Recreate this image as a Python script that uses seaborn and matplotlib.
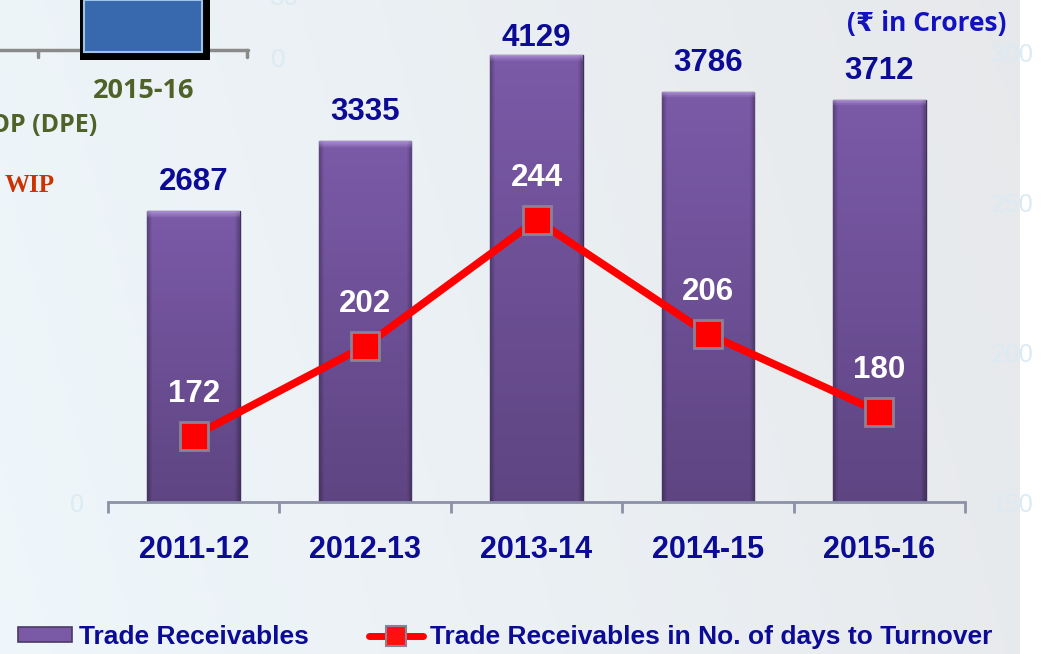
import numpy as np
import pandas as pd
import seaborn as sns
import matplotlib
matplotlib.use("Agg")
import matplotlib.pyplot as plt
from matplotlib.patches import Patch, Rectangle
from matplotlib.lines import Line2D
from matplotlib.ticker import FixedLocator

# ---- data ----
years = ["2011-12", "2012-13", "2013-14", "2014-15", "2015-16"]
receivables = [2687, 3335, 4129, 3786, 3712]
days_turnover = [172, 202, 244, 206, 180]
right_ticks = [150, 200, 250, 300]

sns.set_theme(style="white")
plt.rcParams["font.family"] = ["Liberation Sans", "DejaVu Sans"]

W, H = 1050, 654
fig = plt.figure(figsize=(W / 100, H / 100), dpi=100, facecolor="white")

# background gradient panel (slide background)
bg = fig.add_axes([0, 0, 1020 / W, 1])
bg.set_axis_off()
gx = np.linspace(0, 1, 256)[None, :]
gy = np.linspace(0, 1, 64)[:, None]
c_left = np.array([0.935, 0.967, 0.985])
c_right = np.array([0.905, 0.912, 0.922])
t = np.clip(gx * 0.85 + gy * 0.15, 0, 1)[..., None]
img = c_left * (1 - t) + c_right * t
bg.imshow(img, aspect="auto", extent=[0, 1, 0, 1], origin="lower")
bg.set_xlim(0, 1)
bg.set_ylim(0, 1)

# ---- overlapping slide fragments (top-left) ----
fig.patches.append(Rectangle((80 / W, 1 - 60 / H), 130 / W, 60 / H, transform=fig.transFigure,
                             facecolor="black", edgecolor="none", zorder=1))
fig.patches.append(Rectangle((84 / W, 1 - 52 / H), 118 / W, 52 / H, transform=fig.transFigure,
                             facecolor="#3868AE", edgecolor="#9DC3E6", lw=1.5, zorder=1))
fig.lines.append(Line2D([0, 248 / W], [1 - 50 / H, 1 - 50 / H], transform=fig.transFigure,
                        color="#8A8A8A", lw=2.5, zorder=1))
for xx in [38, 247]:
    fig.lines.append(Line2D([xx / W, xx / W], [1 - 50 / H, 1 - 57 / H], transform=fig.transFigure,
                            color="#8A8A8A", lw=2.5, zorder=1))
fig.text(144 / W, 1 - 91 / H, "2015-16", color="#4F6228", fontsize=19.5, fontweight="bold",
         family=["Open Sans", "DejaVu Sans"], ha="center", va="center")
fig.text(-10 / W, 1 - 126 / H, "OP (DPE)", color="#4F6228", fontsize=18, fontweight="bold",
         family=["Open Sans", "DejaVu Sans"], ha="left", va="center")
fig.text(5 / W, 1 - 185 / H, "WIP", color="#CC3300", fontsize=18, fontweight="bold",
         family=["Liberation Serif", "DejaVu Serif"], ha="left", va="center")
fig.text(278 / W, 1 - 60 / H, "0", color="#DCEAF2", fontsize=19,
         ha="center", va="center")
fig.text(285 / W, 1 + 2 / H, "50", color="#DCEAF2", fontsize=19,
         ha="center", va="center")

# ---- main chart ----
left, right, bottom, top = 108, 965, 502, 52
ax = fig.add_axes([left / W, 1 - bottom / H, (right - left) / W, (bottom - top) / H])
ax.set_facecolor("none")

df = pd.DataFrame({"year": years, "recv": receivables, "days": days_turnover})
sns.barplot(data=df, x="year", y="recv", ax=ax, color="#6E4F9C", width=0.54,
            edgecolor="#3E3058", linewidth=1.0, saturation=1)

ylim_left = (0, 4155)
ax.set_xlim(-0.5, 4.5)
ax.set_ylim(*ylim_left)

# gradient fill for bars
rows, cols = 200, 60
vy = np.linspace(0, 1, rows)[:, None]  # 0 bottom -> 1 top
vx = np.linspace(0, 1, cols)[None, :]
top_c = np.array([0.482, 0.353, 0.66])
bot_c = np.array([0.37, 0.27, 0.51])
base = bot_c * (1 - vy[..., None]) + top_c * vy[..., None]
base = np.broadcast_to(base, (rows, cols, 3)).copy()
edge = np.clip(1 - np.minimum(vx, 1 - vx) / 0.05, 0, 1)[..., None]
base = base * (1 - 0.25 * edge)
for b in ax.patches:
    x0, y0 = b.get_x(), b.get_y()
    w, h = b.get_width(), b.get_height()
    px_h = h / (ylim_left[1] - ylim_left[0]) * (bottom - top)
    img_b = base.copy()
    bevel = max(1, int(rows * 8 / max(px_h, 8)))
    ramp = np.linspace(0.15, 0.6, bevel)[:, None, None]
    img_b[-bevel:, :, :] = img_b[-bevel:, :, :] * (1 - ramp) + np.array([0.80, 0.70, 0.94]) * ramp
    im = ax.imshow(img_b, extent=[x0, x0 + w, y0, y0 + h], aspect="auto", origin="lower",
                   zorder=b.get_zorder() + 0.1)
    im.set_clip_path(b)
ax.set_xlim(-0.5, 4.5)
ax.set_ylim(*ylim_left)

lab_col = "#0B0B96"
plot_h = bottom - top
for b, v in zip(ax.patches, receivables):
    frac = b.get_height() / (ylim_left[1] - ylim_left[0])
    yfrac = min(frac + 29 / plot_h, 1 + 14 / plot_h)
    ax.text(b.get_x() + b.get_width() / 2, yfrac, f"{v}",
            transform=ax.get_xaxis_transform(), ha="center", va="center",
            fontsize=22.5, fontweight="bold", color=lab_col, clip_on=False)

for s in ["left", "right", "top"]:
    ax.spines[s].set_visible(False)
ax.spines["bottom"].set_color("#8D91A8")
ax.spines["bottom"].set_linewidth(2)
ax.set_xlabel("")
ax.set_ylabel("")
ax.set_yticks([0])
ax.tick_params(axis="y", length=0, pad=17, labelsize=18, labelcolor="#DCEBF3")
ax.tick_params(axis="x", which="major", length=0, pad=24, labelsize=22, labelcolor=lab_col)
for tl in ax.get_xticklabels():
    tl.set_fontweight("bold")
ax.xaxis.set_minor_locator(FixedLocator(np.arange(-0.5, 5, 1.0)))
ax.tick_params(axis="x", which="minor", length=8, width=2, color="#8D91A8", direction="out",
               bottom=True)

# ---- line on secondary axis ----
ax2 = ax.twinx()
sns.pointplot(data=df, x="year", y="days", ax=ax2, color="#FF0000", markers="s",
              linestyles="-", linewidth=5.5, markersize=20, markeredgecolor="#8C8296",
              markeredgewidth=2.0)
ax2.set_xlim(-0.5, 4.5)
ax2.set_ylim(150, 300)
ax2.set_yticks(right_ticks)
for s in ["left", "right", "top", "bottom"]:
    ax2.spines[s].set_visible(False)
ax2.tick_params(axis="y", length=0, pad=19, labelsize=18, labelcolor="#DCEBF3")
ax2.set_ylabel("")
ax2.set_xlabel("")
for i, v in enumerate(days_turnover):
    ax2.annotate(f"{v}", (i, v), xytext=(0, 30), textcoords="offset points",
                 ha="center", va="center", fontsize=22.5, fontweight="bold", color="white",
                 annotation_clip=False, zorder=6)

# ---- title ----
fig.text(1006 / W, 1 - 23 / H, "(₹ in Crores)", ha="right", va="center", fontsize=19,
         fontweight="bold", color="#1212C0", family=["Open Sans", "DejaVu Sans"])

# ---- legend ----
handles = [
    Patch(facecolor="#7A5AA6", edgecolor="#4A3A66", lw=1.2),
    Line2D([0], [0], color="#FF0000", lw=5, marker="s", markersize=14,
           markerfacecolor="#FF1010", markeredgecolor="#8C8296", markeredgewidth=1.5),
]
leg = fig.legend(handles, ["Trade Receivables", "Trade Receivables in No. of days to Turnover"],
                 loc="center left", bbox_to_anchor=(18 / W, 1 - 637 / H), ncol=2,
                 frameon=False, borderpad=0, borderaxespad=0, handlelength=2.05,
                 handleheight=0.5, handletextpad=0.25, columnspacing=2.3,
                 prop={"size": 19, "weight": "bold", "family": ["Liberation Sans", "DejaVu Sans"]})
for tx in leg.get_texts():
    tx.set_color(lab_col)

fig.savefig("out.png", dpi=100, facecolor="white")
